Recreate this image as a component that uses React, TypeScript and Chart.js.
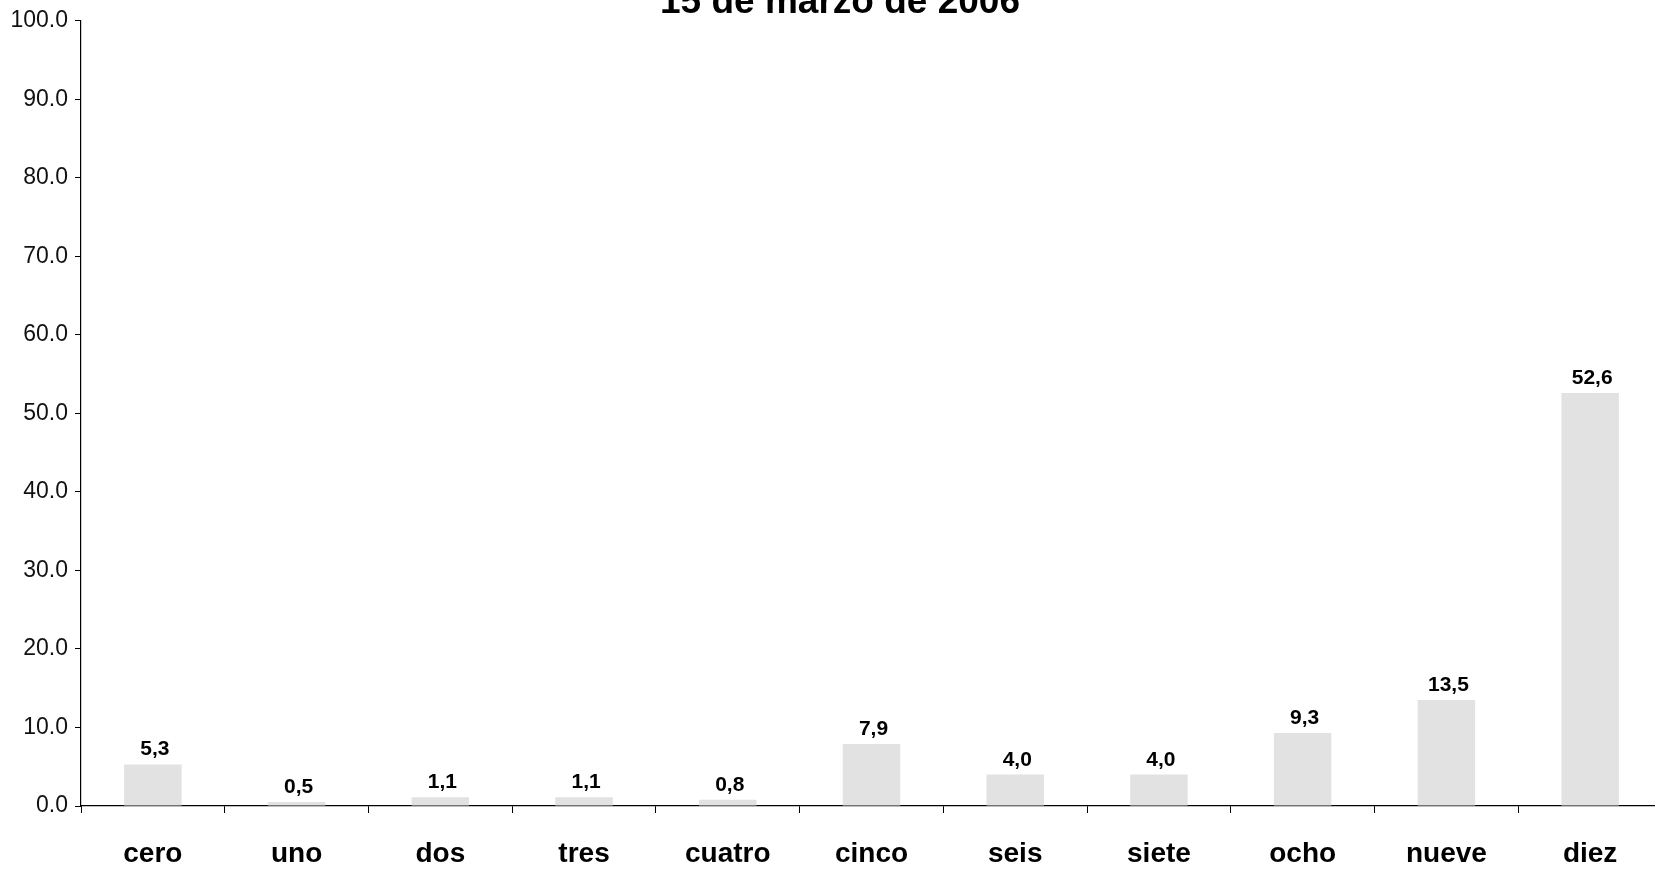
import React, { useEffect, useRef } from 'react';
import { Chart, registerables } from 'chart.js';

Chart.register(...registerables);

const TITLE = '15 de marzo de 2006';
const categories = ['cero', 'uno', 'dos', 'tres', 'cuatro', 'cinco', 'seis', 'siete', 'ocho', 'nueve', 'diez'];
const values = [5.3, 0.5, 1.1, 1.1, 0.8, 7.9, 4.0, 4.0, 9.3, 13.5, 52.6];
const yMin = 0;
const yMax = 100;
const yStep = 10;

const FONT = '"Liberation Sans", Arial, Helvetica, sans-serif';

export default function App() {
  const ref = useRef<HTMLCanvasElement>(null);

  useEffect(() => {
    if (!ref.current) return;

    const titlePlugin = {
      id: 'scanTitle',
      afterDraw(chart: any) {
        const ctx = chart.ctx;
        ctx.save();
        ctx.font = `bold 37px ${FONT}`;
        ctx.fillStyle = '#000';
        ctx.textAlign = 'center';
        ctx.textBaseline = 'alphabetic';
        ctx.fillText(TITLE, 840, 13);
        ctx.restore();
      },
    };

    const valueLabels = {
      id: 'valueLabels',
      afterDatasetsDraw(chart: any) {
        const ctx = chart.ctx;
        const meta = chart.getDatasetMeta(0);
        ctx.save();
        ctx.font = `bold 21px ${FONT}`;
        ctx.fillStyle = '#000';
        ctx.textAlign = 'center';
        ctx.textBaseline = 'alphabetic';
        meta.data.forEach((bar: any, i: number) => {
          const txt = values[i].toFixed(1).replace('.', ',');
          ctx.fillText(txt, bar.x + 2, bar.y - 9);
        });
        ctx.restore();
      },
    };

    const chart = new Chart(ref.current, {
      type: 'bar',
      data: {
        labels: categories,
        datasets: [
          {
            data: values,
            backgroundColor: '#e2e2e2',
            borderWidth: 0,
            barPercentage: 0.4,
            categoryPercentage: 1,
          },
        ],
      },
      options: {
        animation: false,
        responsive: false,
        devicePixelRatio: 1,
        layout: { padding: { top: 20, right: 1, left: 0, bottom: 0 } },
        plugins: {
          legend: { display: false },
          tooltip: { enabled: false },
          title: { display: false },
        },
        scales: {
          x: {
            type: 'category',
            offset: true,
            grid: {
              display: true,
              drawOnChartArea: false,
              drawTicks: true,
              tickLength: 7,
              color: '#000',
              offset: true,
            },
            border: { display: true, color: '#000', width: 1.2 },
            ticks: {
              color: '#000',
              font: { family: FONT, size: 28, weight: 'bold' },
              padding: 24,
              maxRotation: 0,
              autoSkip: false,
            },
            afterFit(scale: any) {
              scale.height = 67;
            },
          },
          y: {
            min: yMin,
            max: yMax,
            ticks: {
              stepSize: yStep,
              callback: (v: any) => Number(v).toFixed(1),
              color: '#111',
              font: { family: FONT, size: 23 },
              padding: 7,
            },
            grid: {
              drawOnChartArea: false,
              drawTicks: true,
              tickLength: 6,
              color: '#000',
            },
            border: { display: true, color: '#000', width: 1.2 },
            afterFit(scale: any) {
              scale.width = 81;
            },
          },
        },
      },
      plugins: [titlePlugin, valueLabels],
    });

    return () => chart.destroy();
  }, []);

  return (
    <div
      style={{
        position: 'fixed',
        left: 0,
        top: 0,
        width: 1655,
        height: 873,
        overflow: 'hidden',
        background: '#fff',
      }}
    >
      <canvas ref={ref} width={1663} height={873} style={{ display: 'block', width: 1663, height: 873 }} />
    </div>
  );
}
